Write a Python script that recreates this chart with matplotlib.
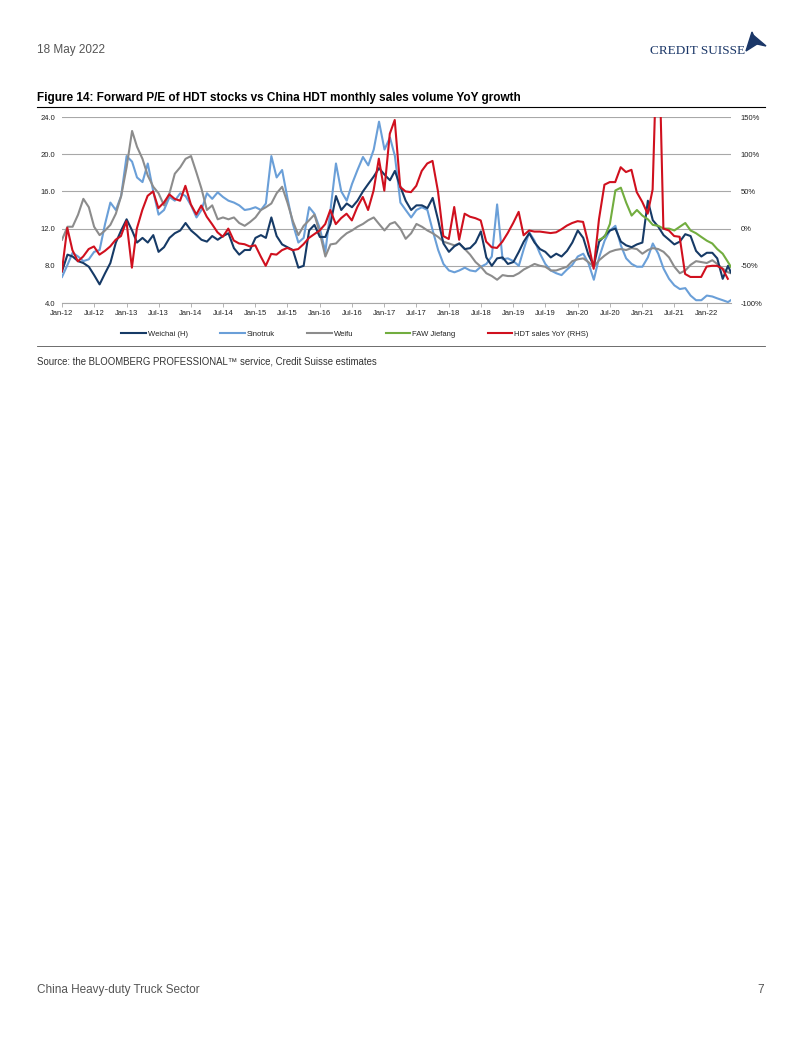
import pandas as pd
import matplotlib
matplotlib.use("Agg")
import matplotlib.pyplot as plt
import matplotlib.dates as mdates
from matplotlib.ticker import FuncFormatter, MultipleLocator
from matplotlib.patches import Polygon
from matplotlib.lines import Line2D

plt.rcParams['font.family'] = ['Liberation Sans', 'DejaVu Sans']

W, H = 802, 1037


def fx(px):
    return px / W


def fy(py):
    return 1 - py / H


# ---- data ----
# stocks: month starts Jan-12 .. May-22 plus the last day shown
stock_dates = list(pd.date_range("2012-01-01", "2022-05-01", freq="MS")) + [pd.Timestamp("2022-05-17")]

weichai = [
    7.4, 9.2, 9.0, 8.5, 8.3, 7.9, 7.0, 6.0, 7.2, 8.3, 10.5, 11.8,
    13.0, 11.8, 10.5, 11.0, 10.5, 11.3, 9.5, 10.0, 11.0, 11.5, 11.8, 12.6,
    11.8, 11.3, 10.8, 10.6, 11.2, 10.8, 11.2, 11.5, 9.9, 9.2, 9.7, 9.7,
    11.0, 11.3, 11.0, 13.2, 11.2, 10.3, 10.0, 9.7, 7.8, 8.0, 11.8, 12.4,
    11.1, 11.1, 12.5, 15.5, 14.0, 14.7, 14.3, 15.0, 16.0, 16.8, 17.6, 18.5,
    17.8, 17.2, 18.2, 16.5, 15.0, 14.0, 14.5, 14.5, 14.2, 15.3, 12.9, 10.4,
    9.5, 10.1, 10.4, 9.8, 9.9, 10.5, 11.7, 8.9, 8.0, 8.8, 8.9, 8.2,
    8.4, 9.5, 10.6, 11.5, 10.5, 9.8, 9.5, 8.9, 9.3, 9.0, 9.6, 10.5,
    11.8, 11.0, 9.2, 8.0, 10.6, 11.2, 11.8, 12.0, 10.6, 10.2, 10.0, 10.3,
    10.5, 15.0, 12.9, 12.2, 11.3, 10.8, 10.3, 10.6, 11.4, 11.2, 9.6, 9.0,
    9.4, 9.4, 8.8, 6.6, 8.0, 7.3,
]

sinotruk = [
    6.8, 8.1, 9.4, 9.0, 8.5, 8.7, 9.5, 9.7, 12.5, 14.8, 14.0, 15.5,
    19.8, 19.2, 17.5, 17.0, 19.0, 16.0, 13.5, 14.0, 15.4, 15.0, 15.8, 15.5,
    14.5, 13.2, 14.0, 15.8, 15.2, 15.9, 15.4, 15.0, 14.8, 14.5, 14.0, 14.1,
    14.3, 14.0, 14.7, 19.8, 17.5, 18.3, 15.3, 12.5, 10.5, 11.0, 14.3, 13.6,
    12.0, 9.5, 14.0, 19.0, 16.0, 15.0, 16.8, 18.3, 19.7, 18.8, 20.5, 23.5,
    20.5, 21.8, 19.8, 14.8, 14.0, 13.2, 14.0, 14.3, 14.0, 11.8, 9.7, 8.2,
    7.5, 7.3, 7.5, 7.8, 7.5, 7.4, 7.9, 8.2, 9.0, 14.6, 8.7, 8.8,
    8.5, 8.0, 9.8, 11.6, 10.7, 9.3, 8.2, 7.5, 7.2, 7.0, 7.6, 8.1,
    9.0, 9.3, 8.3, 6.5, 8.9, 10.7, 11.8, 12.3, 10.2, 8.8, 8.2, 7.9,
    7.9, 8.9, 10.4, 9.3, 7.7, 6.6, 5.9, 5.5, 5.6, 4.8, 4.3, 4.3,
    4.8, 4.7, 4.5, 4.3, 4.1, 4.3,
]

weifu = [
    10.8, 12.2, 12.2, 13.5, 15.2, 14.3, 12.2, 11.3, 11.8, 12.4, 13.6, 15.5,
    18.6, 22.5, 20.8, 19.5, 17.7, 16.5, 15.8, 14.5, 15.8, 17.9, 18.6, 19.5,
    19.8, 18.0, 16.3, 14.0, 14.5, 13.0, 13.2, 13.0, 13.2, 12.6, 12.3, 12.7,
    13.2, 14.0, 14.3, 14.7, 15.8, 16.5, 14.8, 12.8, 11.3, 12.3, 12.9, 13.5,
    11.5, 9.0, 10.3, 10.4, 11.0, 11.5, 11.8, 12.2, 12.5, 12.9, 13.2, 12.5,
    11.8, 12.5, 12.7, 12.0, 10.9, 11.5, 12.5, 12.2, 11.8, 11.5, 11.1, 10.6,
    10.4, 10.2, 10.4, 9.8, 9.2, 8.4, 7.9, 7.2, 6.9, 6.5, 7.0, 6.9,
    6.9, 7.2, 7.6, 7.9, 8.2, 8.0, 7.9, 7.5, 7.5, 7.7, 7.9, 8.5,
    8.7, 8.8, 8.4, 7.9, 8.6, 9.1, 9.5, 9.7, 9.8, 9.7, 9.9, 9.8,
    9.3, 9.7, 9.9, 9.8, 9.5, 8.9, 7.9, 7.2, 7.5, 8.1, 8.5, 8.4,
    8.3, 8.6, 8.2, 7.7, 7.3, 7.2,
]

# FAW Jiefang only from May-20
faw_dates = stock_dates[100:]
faw = [
    10.8, 11.1, 12.5, 16.1, 16.4, 14.8, 13.4, 14.0,
    13.4, 13.0, 12.4, 12.3, 12.0, 12.0, 11.8, 12.2, 12.6, 11.8, 11.5, 11.1, 10.7, 10.4,
    9.8, 9.3, 8.4, 7.9,
]

# HDT sales YoY (%), month-end Dec-11 .. Apr-22
hdt_dates = pd.date_range("2012-01-01", "2022-05-01", freq="MS") - pd.Timedelta(days=1)
hdt_yoy = [
    -57.5, 1, -29, -44, -37.5, -27.5, -24, -35, -30, -24, -15, -10,
    10, -52.5, 0, 25, 44, 50, 27.5, 35, 46, 40, 37.5, 57.5,
    32.5, 19, 31, 16, 6, -5, -11, 0, -16, -20, -21, -24,
    -22.5, -37.5, -50, -34, -35, -29, -26, -29, -27.5, -21, -12.5, -7.5,
    -2.5, 6, 25, 6, 14, 20, 11, 29, 42.5, 25, 51, 94,
    51, 127.5, 146, 56, 50, 49, 57.5, 77.5, 87.5, 91, 50, -10,
    -14, 29, -15, 20, 16, 14, 11, -17.5, -25, -26, -17.5, -6,
    7.5, 22.5, -9, -2.5, -4, -4, -5, -6, -5, -1, 4, 7.5,
    10, 9, -19, -54, 12.5, 59, 62.5, 62.5, 82.5, 76, 79, 49,
    36, 20, 52.5, 300, 0, -2.5, -10, -11, -61, -65, -65, -65,
    -51, -50, -50, -54, -67.5,
]

# ---- figure ----
fig = plt.figure(figsize=(W / 100, H / 100), dpi=100)
ax = fig.add_axes([fx(62), fy(303), fx(731) - fx(62), fy(117) - fy(303)])

ax.plot(stock_dates, sinotruk, color='#6a9fd8', lw=1.5, label='Sinotruk', zorder=2)
ax.plot(stock_dates, weifu, color='#8c8c8c', lw=1.5, label='Weifu', zorder=2)
ax.plot(stock_dates, weichai, color='#163a66', lw=1.5, label='Weichai (H)', zorder=3)
ax.plot(faw_dates, faw, color='#72ad3f', lw=1.5, label='FAW Jiefang', zorder=3)

ax.set_ylim(4, 24)
ax.yaxis.set_major_locator(MultipleLocator(4))
ax.yaxis.set_major_formatter(FuncFormatter(lambda v, p: f"{v:.1f}"))
ax.set_xlim(pd.Timestamp("2012-01-01"), pd.Timestamp("2022-05-18"))
ax.xaxis.set_major_locator(mdates.MonthLocator(bymonth=[1, 7]))
ax.xaxis.set_major_formatter(mdates.DateFormatter("%b-%y"))

ax.grid(axis='y', color='#a8a8a8', lw=0.8)
ax.set_axisbelow(True)
for s in ['top', 'left', 'right']:
    ax.spines[s].set_visible(False)
ax.spines['bottom'].set_color('#a8a8a8')
ax.spines['bottom'].set_linewidth(0.8)
ax.tick_params(axis='x', labelsize=5.5, colors='#222222', length=3, width=0.6,
               color='#a8a8a8', pad=2)
ax.tick_params(axis='y', labelsize=5.5, colors='#222222', length=0, pad=5)

ax2 = ax.twinx()
ax2.plot(hdt_dates, hdt_yoy, color='#d0101e', lw=1.5, label='HDT sales YoY (RHS)')
ax2.set_ylim(-100, 150)
ax2.yaxis.set_major_locator(MultipleLocator(50))
ax2.yaxis.set_major_formatter(FuncFormatter(lambda v, p: f"{v:.0f}%"))
for s in ['top', 'left', 'right', 'bottom']:
    ax2.spines[s].set_visible(False)
ax2.tick_params(axis='y', labelsize=5.5, colors='#222222', length=0, pad=7)

# legend below the plot
handles = [
    Line2D([], [], color='#163a66', lw=1.5),
    Line2D([], [], color='#6a9fd8', lw=1.5),
    Line2D([], [], color='#8c8c8c', lw=1.5),
    Line2D([], [], color='#72ad3f', lw=1.5),
    Line2D([], [], color='#d0101e', lw=1.5),
]
labels = ['Weichai (H)', 'Sinotruk', 'Weifu', 'FAW Jiefang', 'HDT sales YoY (RHS)']
leg = fig.legend(handles, labels, loc='center', bbox_to_anchor=(fx(355), fy(334)),
                 ncol=5, frameon=False, fontsize=5.5, handlelength=3.2,
                 handletextpad=0.3, columnspacing=4.2)
for t in leg.get_texts():
    t.set_color('#222222')

# ---- page furniture ----
fig.text(fx(37), fy(50), "18 May 2022", fontsize=8.5, color='#555555', va='center')
fig.text(fx(745), fy(51), "CREDIT SUISSE", fontsize=9.5, color='#1b3768', va='center',
         ha='right', family=['Liberation Serif', 'DejaVu Serif'])
fig.patches.append(Polygon([[fx(746), fy(51)], [fx(752), fy(32)], [fx(757), fy(44)]],
                           closed=True, transform=fig.transFigure, color='#1b3768'))
fig.patches.append(Polygon([[fx(753), fy(35)], [fx(766), fy(46)], [fx(757), fy(44)]],
                           closed=True, transform=fig.transFigure, color='#1b3768'))

fig.text(fx(37), fy(98), "Figure 14: Forward P/E of HDT stocks vs China HDT monthly sales volume YoY growth",
         fontsize=8.5, weight='bold', color='#000000', va='center')
fig.add_artist(Line2D([fx(37), fx(765)], [fy(107), fy(107)], color='#000000', lw=0.8))
fig.add_artist(Line2D([fx(37), fx(765)], [fy(346), fy(346)], color='#555555', lw=0.6))
fig.text(fx(37), fy(362), "Source: the BLOOMBERG PROFESSIONAL\u2122 service, Credit Suisse estimates",
         fontsize=6.9, color='#333333', va='center')

fig.text(fx(37), fy(990), "China Heavy-duty Truck Sector", fontsize=8.5, color='#555555', va='center')
fig.text(fx(764), fy(990), "7", fontsize=8.5, color='#555555', va='center', ha='right')

fig.savefig("out.png", dpi=100)
